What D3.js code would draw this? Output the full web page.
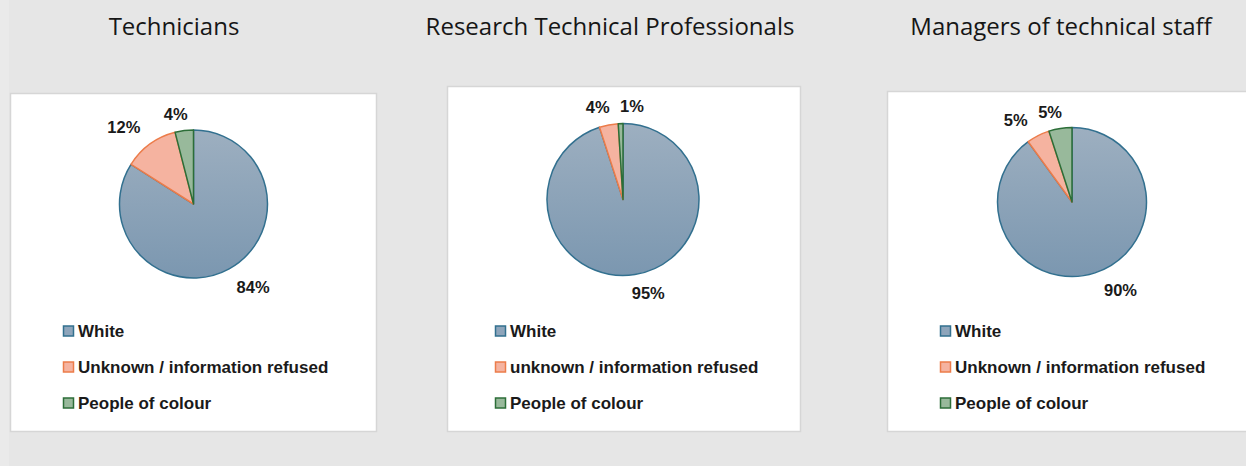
<!DOCTYPE html>
<html>
<head>
<meta charset="utf-8">
<script src="https://cdn.jsdelivr.net/npm/d3@7"></script>
<style>
  body { margin: 0; background: #e6e6e6; }
  svg { display: block; }
</style>
</head>
<body>
<div id="chart"></div>
<script>
// data
var groups = ["Technicians", "Research Technical Professionals", "Managers of technical staff"];
var categories = ["White", "Unknown / information refused", "People of colour"];
var legendLabels = [
    ["White", "Unknown / information refused", "People of colour"],
    ["White", "unknown / information refused", "People of colour"],
    ["White", "Unknown / information refused", "People of colour"]
];
var technicians = [84, 12, 4];
var researchTech = [95, 4, 1];
var managers = [90, 5, 5];
var seriesValues = [technicians, researchTech, managers];

var width = 1246, height = 466;

// layout for each panel (label nudges are Excel's "best fit" offsets)
var panels = [
    {box: [10, 93, 366, 338], cx: 193.5, cy: 204, r: 74, titleX: 174, legendX: 63,
     nudge: [[14, 0], [-14, 0], [-6, 4]]},
    {box: [447, 86, 353, 345], cx: 623, cy: 199.5, r: 76, titleX: 610, legendX: 495,
     nudge: [[10, -3], [-7, 3], [12, 4]]},
    {box: [887, 91, 370, 340], cx: 1072, cy: 202, r: 74.5, titleX: 1061, legendX: 940,
     nudge: [[19, -3], [-13, 3], [-7, 4]]}
];

var fills = ["url(#whiteGrad)", "#f5b3a0", "#98b99b"];
var strokes = ["#32708f", "#ec7c4a", "#2c6e38"];
var legendFills = ["#8ea5bb", "#f5b3a0", "#98b99b"];

var svg = d3.select("#chart").append("svg")
    .attr("width", width)
    .attr("height", height);

var defs = svg.append("defs");
var grad = defs.append("linearGradient")
    .attr("id", "whiteGrad")
    .attr("x1", 0).attr("y1", 0).attr("x2", 0).attr("y2", 1);
grad.append("stop").attr("offset", "0%").attr("stop-color", "#9dafc0");
grad.append("stop").attr("offset", "100%").attr("stop-color", "#7b97b0");

svg.append("rect")
    .attr("width", width).attr("height", height)
    .attr("fill", "#e6e6e6");
svg.append("rect")
    .attr("width", 9).attr("height", height)
    .attr("fill", "#eaeaea");

var pie = d3.pie().sort(null).value(function (d) { return d; });

groups.forEach(function (g, gi) {
    var p = panels[gi];
    var vals = seriesValues[gi];

    svg.append("text")
        .attr("x", p.titleX)
        .attr("y", 25)
        .attr("text-anchor", "middle")
        .attr("dominant-baseline", "central")
        .style("font-family", "Open Sans, sans-serif")
        .style("font-size", "24px")
        .attr("fill", "#161616")
        .text(g);

    svg.append("rect")
        .attr("x", p.box[0] + 0.5).attr("y", p.box[1] + 0.5)
        .attr("width", p.box[2]).attr("height", p.box[3])
        .attr("fill", "#fff")
        .attr("stroke", "#d6d6d6")
        .attr("stroke-width", 1.5);

    var arc = d3.arc().innerRadius(0).outerRadius(p.r);
    var labelArc = d3.arc().innerRadius(p.r * 1.28).outerRadius(p.r * 1.28);

    var gPie = svg.append("g")
        .attr("transform", "translate(" + p.cx + "," + p.cy + ")");

    var arcs = pie(vals);

    gPie.selectAll("path")
        .data(arcs)
        .enter()
        .append("path")
        .attr("d", arc)
        .attr("fill", function (d, i) { return fills[i]; })
        .attr("stroke", function (d, i) { return strokes[i]; })
        .attr("stroke-width", 1.5)
        .attr("stroke-linejoin", "round");

    gPie.selectAll("text")
        .data(arcs)
        .enter()
        .append("text")
        .attr("transform", function (d) {
            var c = labelArc.centroid(d);
            c[0] += p.nudge[d.index][0];
            c[1] += p.nudge[d.index][1];
            return "translate(" + c + ")";
        })
        .attr("text-anchor", "middle")
        .attr("dominant-baseline", "central")
        .style("font-family", "Liberation Sans, Arial, sans-serif")
        .style("font-weight", "bold")
        .style("font-size", "16.5px")
        .attr("fill", "#1a1a1a")
        .text(function (d) { return d.data + "%"; });

    var legend = svg.append("g")
        .attr("transform", "translate(" + p.legendX + ",331)");

    var items = legend.selectAll("g")
        .data(categories)
        .enter()
        .append("g")
        .attr("transform", function (d, i) { return "translate(0," + i * 36 + ")"; });

    items.append("rect")
        .attr("x", 0.5).attr("y", -5)
        .attr("width", 10).attr("height", 10)
        .attr("fill", function (d, i) { return legendFills[i]; })
        .attr("stroke", function (d, i) { return strokes[i]; })
        .attr("stroke-width", 1.5);

    items.append("text")
        .attr("x", 15)
        .attr("y", 0)
        .attr("dominant-baseline", "central")
        .style("font-family", "Liberation Sans, Arial, sans-serif")
        .style("font-weight", "bold")
        .style("font-size", "17px")
        .attr("fill", "#1a1a1a")
        .text(function (d, i) { return legendLabels[gi][i]; });
});
</script>
</body>
</html>
